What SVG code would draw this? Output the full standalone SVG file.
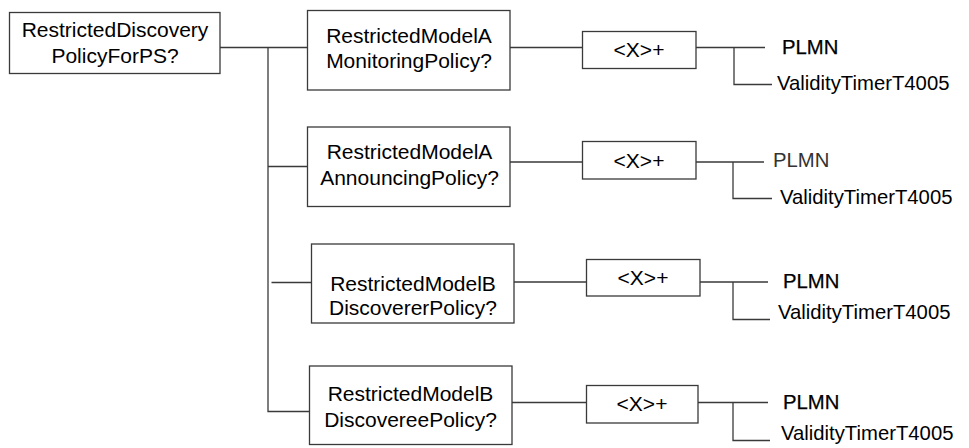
<svg xmlns="http://www.w3.org/2000/svg" width="969" height="448" viewBox="0 0 969 448">
<style>
.box{fill:#fff;stroke:#3a3a3a;stroke-width:1.3}
.ln{fill:none;stroke:#3a3a3a;stroke-width:1.3}
.t{font-family:"Liberation Sans",Arial,sans-serif;font-size:21px;fill:#000;text-anchor:middle}
.lf{font-family:"Liberation Sans",Arial,sans-serif;font-size:20.3px;fill:#000}
.pb{stroke:#000;stroke-width:0.25}
.pl{fill:#333}
</style>
<rect width="969" height="448" fill="#fff"/>
<g id="connectors">
<path class="ln" d="M220 47.5H307M268 47.5V411.5H309M268 166.5H307M271.5 282.5H311"/>
<path class="ln" d="M510 47.5H582M510 162H582M514 282H586M512 402.5H586"/>
<path class="ln" d="M696 47.5H765M734 47.5V84.5H772"/>
<path class="ln" d="M696 162H764M733 162V198.5H772"/>
<path class="ln" d="M700 282H768M733 282V319.5H770"/>
<path class="ln" d="M698 402.5H768M733 402.5V440.5H770"/>
</g>
<g id="root">
<rect class="box" x="9.5" y="12.5" width="210.5" height="61"/>
<text class="t" x="115" y="37">RestrictedDiscovery</text>
<text class="t" x="115" y="63">PolicyForPS?</text>
</g>
<g id="monitoring">
<rect class="box" x="307.5" y="10.5" width="202.5" height="79.5"/>
<text class="t" x="409" y="43">RestrictedModelA</text>
<text class="t" x="409" y="68">MonitoringPolicy?</text>
</g>
<g id="announcing">
<rect class="box" x="307.5" y="127" width="202.5" height="79.5"/>
<text class="t" x="409.5" y="159">RestrictedModelA</text>
<text class="t" x="409.5" y="185">AnnouncingPolicy?</text>
</g>
<g id="discoverer">
<rect class="box" x="311.5" y="244" width="202.5" height="79"/>
<text class="t" x="413" y="291">RestrictedModelB</text>
<text class="t" x="413" y="315">DiscovererPolicy?</text>
</g>
<g id="discoveree">
<rect class="box" x="309.5" y="366" width="202.5" height="78.5"/>
<text class="t" x="410.5" y="401">RestrictedModelB</text>
<text class="t" x="410.5" y="427">DiscovereePolicy?</text>
</g>
<g id="x1">
<rect class="box" x="582.5" y="31.5" width="113.5" height="37"/>
<text class="t" x="639" y="57">&lt;X&gt;+</text>
</g>
<g id="x2">
<rect class="box" x="582.5" y="141.5" width="113.5" height="37.5"/>
<text class="t" x="639" y="168">&lt;X&gt;+</text>
</g>
<g id="x3">
<rect class="box" x="586.5" y="259.5" width="113.5" height="36.5"/>
<text class="t" x="643" y="285">&lt;X&gt;+</text>
</g>
<g id="x4">
<rect class="box" x="586.5" y="385.5" width="111.5" height="37.5"/>
<text class="t" x="642" y="411">&lt;X&gt;+</text>
</g>
<g id="leaves1">
<text class="lf pb" x="782" y="54">PLMN</text>
<text class="lf" x="777" y="90">ValidityTimerT4005</text>
</g>
<g id="leaves2">
<text class="lf pl" x="773" y="167">PLMN</text>
<text class="lf" x="780" y="204">ValidityTimerT4005</text>
</g>
<g id="leaves3">
<text class="lf pb" x="783" y="288">PLMN</text>
<text class="lf" x="778" y="319">ValidityTimerT4005</text>
</g>
<g id="leaves4">
<text class="lf pb" x="783" y="409">PLMN</text>
<text class="lf" x="781" y="440">ValidityTimerT4005</text>
</g>
</svg>
